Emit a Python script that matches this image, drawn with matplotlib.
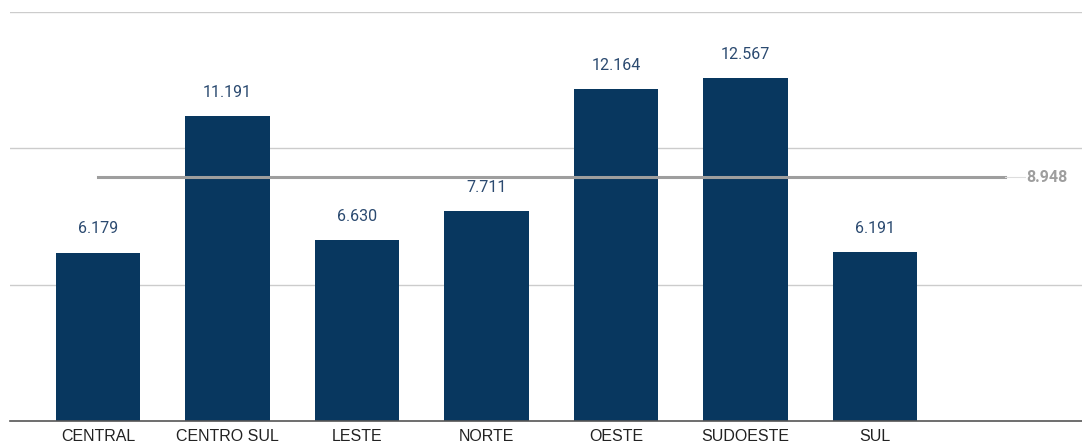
import numpy as np
import matplotlib.pyplot as plt

# dados do gráfico
regioes = ['CENTRAL', 'CENTRO SUL', 'LESTE', 'NORTE', 'OESTE', 'SUDOESTE', 'SUL']
valores = [6179, 11191, 6630, 7711, 12164, 12567, 6191]
rotulos = ['6.179', '11.191', '6.630', '7.711', '12.164', '12.567', '6.191']
media = 8948
rotulo_media = '8.948'

cor_barra = '#08375f'
cor_rotulo = '#2b4a70'
cor_media = '#9e9e9e'

fig = plt.figure(figsize=(10.82, 4.48), dpi=100)
ax = fig.add_axes([10 / 1082, 27 / 448, 1072 / 1082, 409 / 448])

x = np.arange(len(regioes))
ax.bar(x, valores, width=0.65, color=cor_barra, zorder=3)

for xi, v, r in zip(x, valores, rotulos):
    ax.annotate(r, (xi, v), xytext=(0, 17), textcoords='offset points',
                ha='center', va='center', fontsize=11.5, color=cor_rotulo,
                family='Roboto')

# linha da média
ax.plot([0, 7], [media, media], color=cor_media, lw=2.2, zorder=4)
ax.plot([7, 7.16], [media, media], color='#dddddd', lw=0.8, zorder=4)
ax.text(7.17, media, rotulo_media, ha='left', va='center', fontsize=11.5,
        color=cor_media, fontweight='bold', family='Roboto')

ax.set_xlim(-0.6795, 7.598)
ax.set_ylim(0, 15000)
ax.set_yticks([5000, 10000, 15000])
ax.yaxis.grid(True, color='#cccccc', lw=1, zorder=0)
ax.tick_params(axis='y', left=False, labelleft=False)
ax.set_xticks(x)
ax.set_xticklabels(regioes, fontsize=11.5, family='Liberation Sans', color='#222222')
ax.tick_params(axis='x', length=0, pad=6)

for s in ['top', 'right', 'left']:
    ax.spines[s].set_visible(False)
ax.spines['bottom'].set_color('#555555')
ax.spines['bottom'].set_linewidth(1.2)
ax.spines['bottom'].set_zorder(5)

fig.savefig('out.png', dpi=100)
